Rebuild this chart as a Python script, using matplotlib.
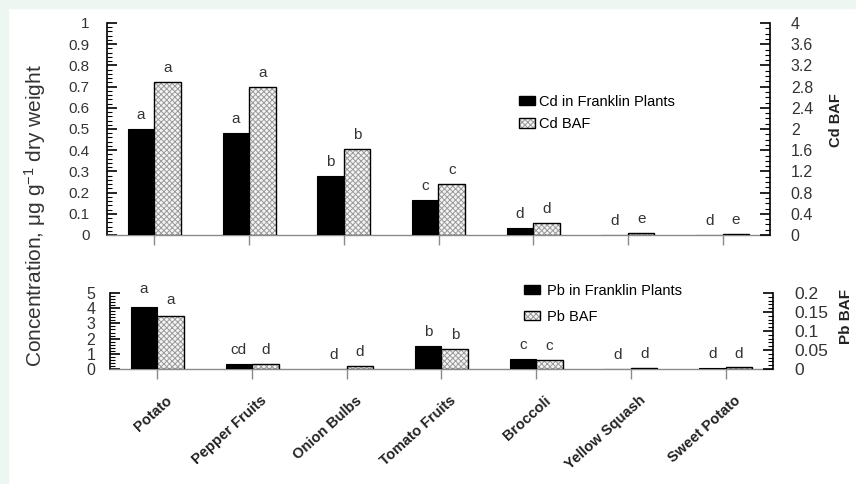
import matplotlib
matplotlib.use('Agg')
import matplotlib.pyplot as plt
import matplotlib.transforms as mtrans
from matplotlib.patches import Rectangle, Patch
from matplotlib.legend_handler import HandlerTuple
from matplotlib.ticker import MultipleLocator, FuncFormatter
import numpy as np

plt.rcParams['font.family'] = ['Liberation Sans', 'DejaVu Sans']
plt.rcParams['mathtext.fontset'] = 'custom'
plt.rcParams['mathtext.rm'] = 'Liberation Sans'
plt.rcParams['mathtext.it'] = 'Liberation Sans:italic'
plt.rcParams['mathtext.bf'] = 'Liberation Sans:bold'
plt.rcParams['hatch.linewidth'] = 0.7

# ---------------- data ----------------
categories = ['Potato', 'Pepper Fruits', 'Onion Bulbs', 'Tomato Fruits',
              'Broccoli', 'Yellow Squash', 'Sweet Potato']

cd_plants = [0.50, 0.48, 0.28, 0.165, 0.035, 0.0, 0.0]
cd_baf = [2.88, 2.80, 1.62, 0.96, 0.22, 0.04, 0.02]
cd_plant_letters = ['a', 'a', 'b', 'c', 'd', 'd', 'd']
cd_baf_letters = ['a', 'a', 'b', 'c', 'd', 'e', 'e']

pb_plants = [4.1, 0.30, 0.0, 1.5, 0.68, 0.0, 0.08]
pb_baf = [0.14, 0.012, 0.009, 0.053, 0.025, 0.003, 0.004]
pb_plant_letters = ['a', 'cd', 'd', 'b', 'c', 'd', 'd']
pb_baf_letters = ['a', 'd', 'd', 'b', 'c', 'd', 'd']

# ---------------- layout ----------------
W, H = 856, 484
fig = plt.figure(figsize=(W / 100, H / 100), dpi=100)
fig.patch.set_facecolor('white')
mint = '#eef6f2'
fig.patches.append(Rectangle((0, 1 - 8 / H), 1, 8 / H, transform=fig.transFigure,
                             color=mint, zorder=-10))
fig.patches.append(Rectangle((0, 0), 8 / W, 1, transform=fig.transFigure,
                             color=mint, zorder=-10))


def box(l, t, r, b):
    return [l / W, 1 - b / H, (r - l) / W, (b - t) / H]


BW = 0.28
TXT = '#333333'
GRAY = '#8a8a8a'
HATCH_C = '#9a9a9a'
HATCH = 'xxxxxx'
fmt = FuncFormatter(lambda v, p: '%g' % round(v, 4))

x = np.arange(len(categories))


def setup_pair(ax, axr, ymax, ymaj, ymin, rmax, rmaj, rmin, lsize, rsize, lpad, rpad):
    ax.set_xlim(-0.5, len(categories) - 0.5)
    ax.set_ylim(0, ymax)
    axr.set_ylim(0, rmax)
    for a in (ax, axr):
        a.set_facecolor('none')
        a.spines['top'].set_visible(False)
        a.spines['bottom'].set_color(GRAY)
        a.spines['bottom'].set_linewidth(1.0)
    ax.spines['right'].set_visible(False)
    axr.spines['left'].set_visible(False)
    axr.spines['bottom'].set_visible(False)
    ax.spines['left'].set_linewidth(1.2)
    axr.spines['right'].set_linewidth(1.2)
    ax.yaxis.set_major_locator(MultipleLocator(ymaj))
    ax.yaxis.set_minor_locator(MultipleLocator(ymin))
    ax.yaxis.set_major_formatter(fmt)
    axr.yaxis.set_major_locator(MultipleLocator(rmaj))
    axr.yaxis.set_minor_locator(MultipleLocator(rmin))
    axr.yaxis.set_major_formatter(fmt)
    ax.tick_params(axis='y', which='major', direction='in', length=7, width=1.2,
                   labelsize=lsize, labelcolor=TXT, pad=lpad)
    ax.tick_params(axis='y', which='minor', direction='in', length=3.5, width=0.8)
    axr.tick_params(axis='y', which='major', direction='in', length=7, width=1.2,
                    labelsize=rsize, labelcolor=TXT, pad=rpad)
    axr.tick_params(axis='y', which='minor', direction='in', length=3.5, width=0.8)
    ax.set_xticks(x)
    ax.tick_params(axis='x', direction='out', length=7.5, width=1.0, color=GRAY)


def draw(ax, axr, plants, baf, pl_letters, baf_letters, off_p, off_b):
    ax.bar(x, plants, width=-BW, align='edge', color='black', edgecolor='black',
           linewidth=0.8, zorder=3)
    axr.bar(x, baf, width=BW, align='edge', color='#f4f4f4', edgecolor=HATCH_C,
            hatch=HATCH, linewidth=0, zorder=3)
    axr.bar(x, baf, width=BW, align='edge', fill=False, edgecolor='black',
            linewidth=1.0, zorder=4)
    for i in range(len(categories)):
        ax.annotate(pl_letters[i], (x[i] - BW / 2, plants[i]), xytext=(0, off_p[i]),
                    textcoords='offset points', ha='center', va='bottom',
                    fontsize=11, color=TXT)
        axr.annotate(baf_letters[i], (x[i] + BW / 2, baf[i]), xytext=(0, off_b[i]),
                     textcoords='offset points', ha='center', va='bottom',
                     fontsize=11, color=TXT)
    h_black = Patch(facecolor='black', edgecolor='black')
    h_hatch = Patch(facecolor='#f4f4f4', edgecolor=HATCH_C, hatch=HATCH, linewidth=0)
    h_edge = Patch(fill=False, edgecolor='black', linewidth=1.0)
    return h_black, (h_hatch, h_edge)


# ---------------- top panel (Cd) ----------------
ax1 = fig.add_axes(box(107, 23, 770, 235))
ax1r = ax1.twinx()
setup_pair(ax1, ax1r, 1.0, 0.1, 0.02, 4.0, 0.4, 0.1, 11, 11.5, 12.5, 15)
ax1.tick_params(axis='x', labelbottom=False)
hb, hh = draw(ax1, ax1r, cd_plants, cd_baf, cd_plant_letters, cd_baf_letters,
              [5] * 7, [5] * 7)
ax1r.legend([hb, hh], ['Cd in Franklin Plants', 'Cd BAF'],
            handler_map={tuple: HandlerTuple(ndivide=1, pad=0)},
            loc='upper left', bbox_to_anchor=(519 / W, 1 - 95 / H),
            bbox_transform=fig.transFigure, frameon=False, fontsize=10.5,
            handlelength=1.1, handleheight=0.6, handletextpad=0.3,
            labelspacing=0.55, borderaxespad=0, borderpad=0)

# ---------------- bottom panel (Pb) ----------------
ax2 = fig.add_axes(box(110, 293, 773, 369))
ax2r = ax2.twinx()
setup_pair(ax2, ax2r, 5.0, 1.0, 0.2, 0.2, 0.05, 0.01, 11.5, 12.5, 10.5, 15.5)
ax2.set_xticks(x)
ax2.set_xticklabels(categories, rotation=42, ha='right', va='top',
                    rotation_mode='anchor', fontweight='bold', fontsize=10.5, color='#222222')
ax2.tick_params(axis='x', pad=10)
shift = mtrans.ScaledTranslation(8 / 100, 0, fig.dpi_scale_trans)
for lab in ax2.get_xticklabels():
    lab.set_transform(lab.get_transform() + shift)
hb2, hh2 = draw(ax2, ax2r, pb_plants, pb_baf, pb_plant_letters, pb_baf_letters,
                [8, 5, 5, 5, 5, 5, 5], [6, 5, 5, 5, 5, 5, 5])
ax2r.legend([hb2, hh2], ['Pb in Franklin Plants', 'Pb BAF'],
            handler_map={tuple: HandlerTuple(ndivide=1, pad=0)},
            loc='upper left', bbox_to_anchor=(524 / W, 1 - 284 / H),
            bbox_transform=fig.transFigure, frameon=False, fontsize=10.5,
            handlelength=1.1, handleheight=0.6, handletextpad=0.5,
            labelspacing=0.8, borderaxespad=0, borderpad=0)

# ---------------- axis titles ----------------
fig.text(35 / W, 1 - 216 / H, 'Concentration, \u03bcg g$^{-1}$ dry weight',
         rotation=90, ha='center', va='center', fontsize=15, color=TXT)
fig.text(836 / W, 1 - 120 / H, 'Cd BAF', rotation=90, ha='center', va='center',
         fontsize=10.5, fontweight='bold', color='#222222')
fig.text(846 / W, 1 - 316 / H, 'Pb BAF', rotation=90, ha='center', va='center',
         fontsize=11, fontweight='bold', color='#222222')

fig.savefig('out.png', dpi=100, facecolor=fig.get_facecolor())
